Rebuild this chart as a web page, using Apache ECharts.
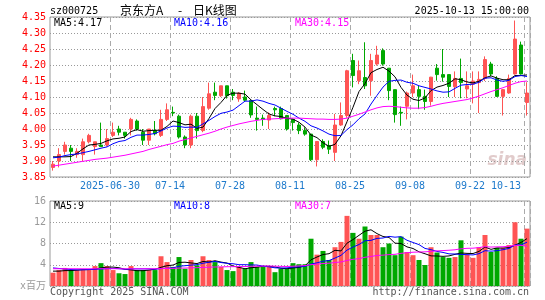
<!DOCTYPE html>
<html>
<head>
<meta charset="utf-8">
<script src="https://cdn.jsdelivr.net/npm/echarts@6/dist/echarts.min.js"></script>
<style>
html, body { margin: 0; padding: 0; background: #fff; }
#chart { width: 545px; height: 300px; }
</style>
</head>
<body>
<div id="chart"></div>
<script>
// trading days shown on the chart
const dates = [
  '2025-06-16','2025-06-17','2025-06-18','2025-06-19','2025-06-20','2025-06-23','2025-06-24','2025-06-25','2025-06-26','2025-06-27',
  '2025-06-30','2025-07-01','2025-07-02','2025-07-03','2025-07-04','2025-07-07','2025-07-08','2025-07-09','2025-07-10','2025-07-11',
  '2025-07-14','2025-07-15','2025-07-16','2025-07-17','2025-07-18','2025-07-21','2025-07-22','2025-07-23','2025-07-24','2025-07-25',
  '2025-07-28','2025-07-29','2025-07-30','2025-07-31','2025-08-01','2025-08-04','2025-08-05','2025-08-06','2025-08-07','2025-08-08',
  '2025-08-11','2025-08-12','2025-08-13','2025-08-14','2025-08-15','2025-08-18','2025-08-19','2025-08-20','2025-08-21','2025-08-22',
  '2025-08-25','2025-08-26','2025-08-27','2025-08-28','2025-08-29','2025-09-01','2025-09-02','2025-09-03','2025-09-04','2025-09-05',
  '2025-09-08','2025-09-09','2025-09-10','2025-09-11','2025-09-12','2025-09-15','2025-09-16','2025-09-17','2025-09-18','2025-09-19',
  '2025-09-22','2025-09-23','2025-09-24','2025-09-25','2025-09-26','2025-09-29','2025-09-30','2025-10-09','2025-10-10','2025-10-13'
]
const tickIdx = [10, 20, 30, 40, 50, 60, 70, 79]

const opens = [
  3.88,3.90,3.93,3.94,3.92,3.92,3.96,3.945,3.95,3.95,
  3.98,4.00,3.99,4.00,4.025,3.99,3.965,3.995,3.98,4.03,
  4.052,4.04,3.975,3.95,4.04,3.995,4.065,4.115,4.104,4.135,
  4.115,4.094,4.10,4.089,4.034,4.034,4.028,4.064,4.064,4.042,
  4.03,4.0125,3.995,3.984,3.904,3.961,3.948,3.927,4.0125,4.042,
  4.214,4.151,4.161,4.151,4.203,4.245,4.19,4.123,4.052,4.071,
  4.1125,4.123,4.102,4.086,4.19,4.17,4.17,4.132,4.158,4.125,
  4.14,4.145,4.158,4.203,4.158,4.102,4.1125,4.172,4.2625,4.083
]
const closes = [
  3.89,3.92,3.95,3.93,3.93,3.96,3.98,3.96,3.945,3.97,
  3.99,3.99,3.98,4.03,4.00,3.965,4.00,3.985,4.03,4.06,
  4.05,3.975,3.95,4.04,3.995,4.07,4.11,4.105,4.135,4.104,
  4.105,4.112,4.09,4.044,4.03,4.03,4.042,4.06,4.032,4.00,
  4.02,3.995,3.984,3.904,3.961,3.943,3.937,4.0125,4.042,4.182,
  4.167,4.182,4.135,4.214,4.231,4.203,4.12,4.045,4.05,4.1125,
  4.135,4.102,4.086,4.162,4.17,4.162,4.133,4.158,4.145,4.135,
  4.15,4.155,4.217,4.172,4.102,4.123,4.158,4.281,4.172,4.1125
]
const lows = [
  3.87,3.88,3.92,3.90,3.91,3.90,3.955,3.92,3.945,3.945,
  3.975,3.98,3.97,3.98,3.995,3.95,3.95,3.98,3.975,4.025,
  4.04,3.97,3.94,3.94,3.97,3.99,4.06,4.09,4.10,4.095,
  4.09,4.085,4.085,4.035,3.995,4.01,4.00,4.04,4.03,3.995,
  3.995,3.984,3.979,3.90,3.883,3.937,3.922,3.90,4.01,4.035,
  4.13,4.14,4.125,4.104,4.198,4.198,4.09,4.02,4.01,4.03,
  4.10,4.062,4.06,4.073,4.151,4.148,4.10,4.10,4.096,4.096,
  4.08,4.05,4.15,4.165,4.10,4.042,4.11,4.17,4.17,4.042
]
const highs = [
  3.90,3.94,3.96,3.95,3.94,3.97,3.985,3.96,4.02,4.00,
  4.02,4.01,3.99,4.035,4.03,4.00,4.00,4.025,4.06,4.08,
  4.07,4.045,3.98,4.045,4.05,4.10,4.145,4.145,4.135,4.135,
  4.125,4.115,4.12,4.09,4.07,4.045,4.052,4.07,4.07,4.044,
  4.03,4.02,4.005,3.984,3.961,3.968,3.964,4.047,4.083,4.185,
  4.235,4.214,4.271,4.235,4.26,4.252,4.19,4.123,4.07,4.117,
  4.17,4.135,4.123,4.163,4.203,4.25,4.17,4.18,4.22,4.18,
  4.18,4.18,4.227,4.21,4.165,4.125,4.17,4.339,4.273,4.146
]

// price moving averages as drawn
const ma5 = [
  3.913,3.913,3.913,3.914,3.924,3.938,3.95,3.952,3.955,3.963,
  3.969,3.971,3.975,3.992,3.998,3.993,3.995,3.996,3.996,4.008,
  4.025,4.02,4.013,4.015,4.002,4.006,4.033,4.064,4.083,4.105,
  4.112,4.112,4.109,4.091,4.076,4.061,4.047,4.041,4.039,4.033,
  4.031,4.021,4.006,3.981,3.973,3.957,3.946,3.952,3.979,4.023,
  4.068,4.117,4.142,4.176,4.186,4.193,4.181,4.163,4.13,4.106,
  4.093,4.089,4.097,4.12,4.131,4.136,4.143,4.157,4.154,4.147,
  4.144,4.149,4.16,4.166,4.159,4.154,4.154,4.167,4.167,4.169
]
const ma10 = [
  3.91,3.912,3.917,3.92,3.922,3.926,3.93,3.935,3.94,3.944,
  3.954,3.961,3.964,3.974,3.981,3.981,3.983,3.986,3.994,4.003,
  4.009,4.008,4.005,4.006,4.005,4.016,4.027,4.039,4.049,4.053,
  4.059,4.073,4.087,4.087,4.091,4.087,4.08,4.075,4.065,4.055,
  4.046,4.034,4.024,4.01,4.003,3.994,3.984,3.979,3.98,3.998,
  4.013,4.032,4.047,4.078,4.105,4.131,4.149,4.152,4.153,4.146,
  4.143,4.135,4.13,4.125,4.119,4.115,4.116,4.127,4.137,4.139,
  4.14,4.146,4.159,4.16,4.153,4.149,4.152,4.164,4.167,4.164
]
const ma30 = [
  3.884,3.887,3.890,3.893,3.896,3.899,3.902,3.905,3.907,3.909,
  3.912,3.915,3.918,3.922,3.926,3.930,3.936,3.941,3.946,3.951,
  3.955,3.962,3.967,3.972,3.977,3.982,3.987,3.993,4.0,4.006,
  4.011,4.016,4.02,4.024,4.027,4.03,4.031,4.032,4.033,4.034,
  4.034,4.034,4.033,4.032,4.031,4.031,4.03,4.03,4.031,4.034,
  4.04,4.046,4.053,4.06,4.066,4.07,4.071,4.07,4.068,4.066,
  4.065,4.065,4.067,4.071,4.076,4.08,4.083,4.086,4.089,4.092,
  4.097,4.103,4.11,4.117,4.123,4.129,4.136,4.143,4.148,4.15
]

// volume, millions of shares
const vols = [
  2.5,3.0,3.4,3.0,3.0,3.0,3.0,3.75,4.3,3.75,
  3.0,2.4,2.25,3.75,3.0,3.0,3.0,3.0,5.6,4.5,
  3.6,5.45,3.25,4.9,3.9,5.6,4.9,4.5,3.6,3.0,
  2.8,3.6,3.25,4.5,3.6,3.6,3.6,2.6,3.25,3.25,
  4.3,4.1,4.1,8.9,5.9,6.6,4.9,7.3,8.3,13.2,
  10.0,8.9,11.2,9.6,9.6,7.3,8.0,5.8,9.3,6.4,
  5.8,4.9,3.95,7.3,6.3,5.45,5.3,5.45,8.6,5.9,
  5.3,7.3,9.6,6.4,7.2,7.2,7.7,12.0,8.9,10.8
]
const volMa5 = [
  2.8,2.8,2.9,2.9,2.98,3.08,3.08,3.15,3.41,3.56,
  3.56,3.44,3.14,3.03,2.88,2.88,3.0,3.15,3.52,3.82,
  3.94,4.43,4.48,4.34,4.22,4.62,4.51,4.76,4.5,4.32,
  3.76,3.5,3.25,3.43,3.55,3.71,3.71,3.58,3.33,3.26,
  3.4,3.5,3.8,4.93,5.46,5.92,6.08,6.72,6.6,8.06,
  8.74,9.54,10.32,10.58,9.86,9.32,9.14,8.06,8.0,7.36,
  7.06,6.44,6.07,5.67,5.65,5.58,5.66,5.96,6.22,6.14,
  6.11,6.51,7.34,6.9,7.16,7.14,7.22,7.7,8.2,8.92
]
const volMa10 = [
  3.4,3.3,3.2,3.1,3.05,3.05,3.1,3.15,3.2,3.27,
  3.32,3.26,3.15,3.22,3.22,3.22,3.22,3.15,3.28,3.35,
  3.41,3.72,3.82,3.93,4.02,4.28,4.47,4.62,4.42,4.27,
  4.19,4.01,4.01,3.97,3.94,3.74,3.61,3.42,3.38,3.41,
  3.56,3.61,3.69,4.13,4.36,4.66,4.79,5.26,5.77,6.76,
  7.33,7.81,8.52,8.59,8.96,9.03,9.34,9.19,9.29,8.61,
  8.19,7.79,7.07,6.84,6.51,6.32,6.05,6.02,5.95,5.9,
  5.85,6.09,6.65,6.56,6.65,6.83,7.07,7.72,7.75,8.24
]
const volMa30 = [
  3.25,3.25,3.25,3.25,3.25,3.24,3.24,3.24,3.25,3.25,
  3.25,3.24,3.23,3.24,3.24,3.24,3.25,3.25,3.28,3.3,
  3.32,3.36,3.38,3.42,3.45,3.5,3.54,3.58,3.6,3.63,
  3.64,3.66,3.66,3.71,3.73,3.75,3.77,3.73,3.69,3.68,
  3.72,3.78,3.84,4.01,4.11,4.23,4.29,4.43,4.52,4.81,
  5.03,5.14,5.41,5.56,5.75,5.81,5.91,5.96,6.15,6.26,
  6.36,6.4,6.43,6.52,6.61,6.67,6.73,6.82,7.0,7.09,
  7.12,7.23,7.41,7.33,7.37,7.39,7.49,7.64,7.66,7.48
]

const priceLegend = ['MA5:4.17', 'MA10:4.16', 'MA30:4.15']
const volLegend = ['MA5:9', 'MA10:8', 'MA30:7']

const RED = '#ff5454'
const GREEN = '#00a800'
const MA_COLORS = ['#000000', '#0000ff', '#ff00ff']
const MONO = "'DejaVu Sans Mono', 'Noto Sans CJK SC', monospace"
const GRID_BORDER = '#999'

const isTick = (idx) => tickIdx.indexOf(idx) !== -1

const candleData = dates.map((d, i) => [opens[i], closes[i], lows[i], highs[i]])
const volData = vols.map((v, i) => ({
  value: v,
  itemStyle: { color: closes[i] >= opens[i] ? RED : GREEN }
}))

function catAxis(gridIndex, showLabels) {
  return {
    type: 'category',
    gridIndex: gridIndex,
    data: dates,
    boundaryGap: true,
    axisLine: { show: false },
    axisTick: { show: false },
    axisLabel: {
      show: showLabels,
      interval: (idx) => isTick(idx),
      formatter: (val, idx) => (idx === tickIdx[0] ? val : val.slice(5)),
      color: '#1e7acc',
      fontFamily: MONO,
      fontSize: 10,
      margin: 4,
      padding: [0, 6, 0, 0],
      alignMaxLabel: 'right'
    },
    splitLine: {
      show: true,
      interval: (idx) => isTick(idx),
      lineStyle: { color: '#aaa', type: [5, 3], width: 1 }
    }
  }
}

function lineSeries(data, color, axisIdx) {
  return {
    type: 'line',
    data: data,
    xAxisIndex: axisIdx,
    yAxisIndex: axisIdx,
    showSymbol: false,
    symbol: 'none',
    silent: true,
    z: 5,
    lineStyle: { color: color, width: 1 }
  }
}

function legendTexts(labels, y) {
  const xs = [54, 174, 295]
  return labels.map((t, i) => ({
    type: 'text',
    x: xs[i],
    y: y,
    style: { text: t, fill: MA_COLORS[i], font: '10px ' + MONO, verticalAlign: 'middle' }
  }))
}

const chart = echarts.init(document.getElementById('chart'), null, { renderer: 'canvas' })

chart.setOption({
  animation: false,
  backgroundColor: '#fff',
  grid: [
    { left: 50, top: 17, width: 480, height: 160, show: true, borderColor: GRID_BORDER, borderWidth: 1 },
    { left: 50, top: 201, width: 480, height: 85, show: true, borderColor: GRID_BORDER, borderWidth: 1 }
  ],
  xAxis: [catAxis(0, true), catAxis(1, false)],
  yAxis: [
    {
      type: 'value',
      gridIndex: 0,
      min: 3.85,
      max: 4.35,
      interval: 0.05,
      axisLine: { show: false },
      axisTick: { show: false },
      axisLabel: {
        color: '#ff0000',
        fontFamily: MONO,
        fontSize: 10,
        margin: 4,
        formatter: (v) => v.toFixed(2)
      },
      splitLine: { lineStyle: { color: '#999', type: [1, 2] } }
    },
    {
      type: 'value',
      gridIndex: 1,
      min: 0,
      max: 16,
      interval: 4,
      axisLine: { show: false },
      axisTick: { show: false },
      axisLabel: {
        color: '#999',
        fontFamily: MONO,
        fontSize: 10,
        margin: 4,
        formatter: (v) => (v === 0 ? 'x百万' : String(v))
      },
      splitLine: { lineStyle: { color: '#999', type: [1, 2] } }
    }
  ],
  series: [
    {
      type: 'candlestick',
      data: candleData,
      xAxisIndex: 0,
      yAxisIndex: 0,
      barWidth: 4,
      silent: true,
      itemStyle: {
        color: RED,
        color0: GREEN,
        borderColor: RED,
        borderColor0: GREEN,
        borderWidth: 1
      }
    },
    lineSeries(ma5, MA_COLORS[0], 0),
    lineSeries(ma10, MA_COLORS[1], 0),
    lineSeries(ma30, MA_COLORS[2], 0),
    {
      type: 'bar',
      data: volData,
      xAxisIndex: 1,
      yAxisIndex: 1,
      barWidth: 5,
      silent: true
    },
    lineSeries(volMa5, MA_COLORS[0], 1),
    lineSeries(volMa10, MA_COLORS[1], 1),
    lineSeries(volMa30, MA_COLORS[2], 1)
  ],
  graphic: [
    { type: 'text', x: 50, y: 11, style: { text: 'sz000725', fill: '#000', font: '10px ' + MONO, verticalAlign: 'middle' } },
    { type: 'text', x: 120, y: 10, style: { text: '京东方A', fill: '#000', font: "12px 'Noto Sans CJK SC'", verticalAlign: 'middle' } },
    { type: 'text', x: 180, y: 10, style: { text: '-', fill: '#000', font: "12px 'Noto Sans CJK SC'", align: 'center', verticalAlign: 'middle' } },
    { type: 'text', x: 193, y: 10, style: { text: '日K线图', fill: '#000', font: "12px 'Noto Sans CJK SC'", verticalAlign: 'middle' } },
    { type: 'text', x: 529, y: 11, style: { text: '2025-10-13 15:00:00', fill: '#000', font: '10px ' + MONO, align: 'right', verticalAlign: 'middle' } },
    ...legendTexts(priceLegend, 23),
    ...legendTexts(volLegend, 206),
    { type: 'text', x: 50, y: 292, style: { text: 'Copyright 2025 SINA.COM', fill: '#555', font: '10px ' + MONO, verticalAlign: 'middle' } },
    { type: 'text', x: 529, y: 292, style: { text: 'http://finance.sina.com.cn', fill: '#555', font: '10px ' + MONO, align: 'right', verticalAlign: 'middle' } },
    { type: 'text', x: 527, y: 161, z: -1, style: { text: 'sina', fill: 'rgba(200,160,160,0.55)', font: "italic bold 17px 'DejaVu Sans'", align: 'right', verticalAlign: 'middle' } }
  ]
})
</script>
</body>
</html>
